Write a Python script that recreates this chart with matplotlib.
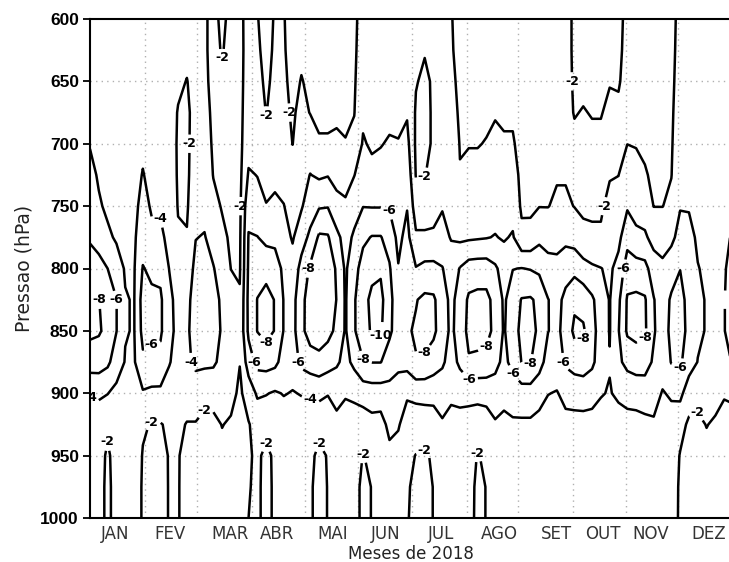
import numpy as np
import matplotlib
matplotlib.use("Agg")
import matplotlib.pyplot as plt

# ---------------- data ----------------
days = [0, 5, 10, 15, 20, 25, 30, 35, 40, 45, 50, 55, 60, 65, 70, 75, 80, 85, 90, 95,
        100, 105, 110, 115, 120, 125, 130, 135, 140, 145, 150, 155, 160, 165, 170, 175,
        180, 185, 190, 195, 200, 205, 210, 215, 220, 225, 230, 235, 240, 245, 250, 255,
        260, 265, 270, 275, 280, 285, 290, 295, 300, 305, 310, 315, 320, 325, 330, 335,
        340, 345, 350, 355, 360, 365]

pressure = [600, 625, 650, 675, 700, 725, 750, 775, 800, 825, 850, 875, 900, 925, 950, 975, 1000]

# one profile (600 -> 1000 hPa) per day in `days`
field_by_day = [
    [-3.0, -3.2, -3.4, -3.6, -3.9, -4.5, -5.1, -5.8, -6.8, -8.1, -8.4, -7.0, -4.1, -3.4, -3.1, -3.0, -3.0],
    [-2.9, -3.0, -3.2, -3.4, -3.6, -3.8, -4.2, -5.3, -6.6, -8.05, -8.2, -7.0, -4.2, -3.3, -3.0, -3.0, -3.0],
    [-2.8, -2.9, -3.0, -3.1, -3.3, -3.5, -3.7, -4.3, -6.0, -7.2, -7.5, -6.4, -4.05, -2.5, -1.6, -1.4, -1.4],
    [-2.7, -2.8, -2.9, -3.0, -3.1, -3.3, -3.6, -3.8, -4.8, -6.05, -6.05, -5.0, -3.5, -3.1, -3.0, -3.0, -3.0],
    [-2.7, -2.8, -2.9, -3.0, -3.1, -3.2, -3.35, -3.5, -3.85, -4.1, -4.1, -3.9, -3.3, -3.0, -3.0, -3.0, -3.0],
    [-2.6, -2.7, -2.8, -2.9, -3.1, -3.3, -3.5, -3.7, -3.85, -3.9, -3.9, -3.8, -3.4, -3.1, -3.0, -3.0, -3.0],
    [-2.6, -2.7, -2.9, -3.1, -3.6, -4.1, -4.6, -5.2, -6.1, -6.8, -6.6, -5.6, -3.8, -2.2, -1.9, -1.8, -1.8],
    [-2.5, -2.6, -2.7, -2.9, -3.1, -3.4, -3.8, -4.4, -5.6, -6.4, -6.4, -5.5, -3.6, -1.9, -1.5, -1.4, -1.4],
    [-2.5, -2.6, -2.7, -2.9, -3.1, -3.4, -3.8, -4.3, -5.5, -6.3, -6.3, -5.4, -3.6, -1.9, -1.5, -1.4, -1.4],
    [-2.5, -2.6, -2.7, -2.8, -2.9, -3.1, -3.3, -3.6, -3.95, -4.5, -4.5, -4.1, -3.3, -2.3, -2.1, -2.1, -2.1],
    [-2.6, -2.6, -2.3, -1.9, -1.8, -1.8, -1.9, -2.2, -2.8, -3.3, -3.5, -3.4, -3.0, -2.4, -2.1, -2.1, -2.1],
    [-2.6, -2.4, -1.95, -1.7, -1.7, -1.7, -1.8, -2.1, -2.9, -3.5, -3.7, -3.6, -3.0, -1.9, -1.5, -1.4, -1.4],
    [-2.6, -2.6, -2.6, -2.6, -2.7, -2.9, -3.3, -3.95, -4.5, -4.8, -4.8, -4.4, -3.0, -1.9, -1.5, -1.4, -1.4],
    [-2.2, -2.2, -2.3, -2.5, -2.7, -3.0, -3.5, -4.1, -4.6, -4.8, -4.8, -4.4, -2.5, -1.6, -1.5, -1.4, -1.4],
    [-1.6, -1.6, -1.6, -1.7, -1.8, -1.95, -2.4, -3.3, -4.1, -4.4, -4.4, -4.3, -2.6, -1.6, -1.4, -1.4, -1.4],
    [-2.3, -2.1, -1.7, -1.6, -1.6, -1.7, -1.9, -2.3, -3.2, -3.8, -3.9, -3.5, -2.6, -2.05, -1.6, -1.4, -1.4],
    [-1.6, -1.5, -1.5, -1.5, -1.5, -1.6, -1.7, -1.8, -1.98, -2.6, -2.9, -2.9, -2.5, -1.8, -1.5, -1.4, -1.4],
    [-1.6, -1.5, -1.5, -1.5, -1.5, -1.5, -1.6, -1.7, -1.8, -2.2, -2.4, -2.05, -1.7, -1.5, -1.4, -1.4, -1.4],
    [-2.6, -2.7, -2.8, -3.0, -3.3, -4.2, -5.5, -6.1, -6.3, -6.5, -6.4, -5.0, -2.8, -1.9, -1.8, -1.9, -2.0],
    [-2.05, -2.2, -2.5, -2.9, -3.4, -3.95, -4.7, -6.05, -7.2, -8.05, -8.05, -6.6, -4.3, -2.6, -2.3, -2.3, -2.3],
    [-1.6, -1.6, -1.7, -1.95, -2.5, -3.6, -4.05, -5.5, -7.3, -8.7, -8.7, -6.8, -4.1, -2.6, -1.6, -1.5, -1.5],
    [-2.1, -2.2, -2.4, -2.6, -3.0, -3.5, -4.4, -5.5, -6.9, -7.9, -7.9, -6.5, -3.8, -2.6, -2.3, -2.3, -2.3],
    [-2.05, -2.1, -2.2, -2.4, -2.8, -3.4, -4.05, -4.8, -5.6, -5.9, -5.9, -5.2, -4.1, -3.0, -2.6, -2.4, -2.4],
    [-1.6, -1.6, -1.7, -1.8, -1.98, -2.6, -3.3, -3.8, -4.8, -5.3, -5.3, -4.9, -3.9, -3.1, -2.8, -2.6, -2.6],
    [-1.7, -1.8, -2.05, -2.4, -2.8, -3.3, -3.8, -5.2, -6.6, -7.4, -7.5, -6.5, -4.1, -3.0, -2.7, -2.6, -2.6],
    [-1.6, -1.7, -1.8, -1.95, -2.9, -4.05, -5.1, -6.4, -8.3, -9.0, -8.9, -7.0, -4.3, -2.9, -2.4, -2.2, -2.2],
    [-1.6, -1.6, -1.7, -1.8, -2.1, -3.7, -5.8, -8.3, -9.3, -9.5, -9.2, -7.3, -4.5, -2.6, -1.6, -1.5, -1.5],
    [-1.6, -1.6, -1.7, -1.8, -2.1, -3.9, -5.9, -8.2, -9.0, -9.2, -8.6, -6.9, -4.1, -2.8, -2.1, -2.05, -2.05],
    [-1.6, -1.6, -1.7, -1.8, -2.2, -3.3, -4.7, -6.5, -7.8, -7.95, -7.6, -6.3, -4.5, -3.6, -2.7, -2.6, -2.6],
    [-1.6, -1.6, -1.7, -1.8, -2.05, -3.0, -4.4, -5.3, -5.7, -5.8, -5.8, -5.4, -4.2, -3.1, -2.7, -2.6, -2.6],
    [-1.7, -1.7, -1.8, -1.95, -2.4, -3.95, -5.2, -6.3, -7.3, -7.8, -7.8, -6.5, -4.4, -3.1, -2.7, -2.6, -2.6],
    [-2.6, -2.9, -3.2, -3.6, -4.2, -5.0, -5.95, -7.6, -8.8, -9.4, -9.3, -7.9, -4.8, -3.0, -1.95, -1.6, -1.6],
    [-2.5, -2.7, -3.0, -3.3, -3.7, -4.6, -5.9, -8.1, -9.5, -10.4, -10.2, -8.05, -5.0, -3.4, -2.3, -2.05, -2.05],
    [-2.5, -2.7, -3.0, -3.3, -3.9, -4.7, -5.9, -8.1, -9.7, -10.6, -10.3, -8.05, -5.0, -3.3, -2.8, -2.6, -2.6],
    [-2.4, -2.7, -3.0, -3.5, -4.2, -5.0, -5.8, -7.2, -8.2, -8.5, -8.3, -7.2, -5.2, -4.5, -3.5, -2.8, -2.6],
    [-2.4, -2.7, -3.0, -3.5, -4.1, -4.6, -5.0, -5.5, -6.1, -7.0, -7.2, -6.4, -5.2, -4.2, -3.2, -2.7, -2.6],
    [-2.4, -2.6, -3.0, -3.8, -4.6, -5.4, -5.9, -6.6, -7.3, -7.8, -7.8, -6.7, -4.3, -3.0, -2.4, -2.2, -2.1],
    [-2.3, -2.2, -2.1, -1.8, -1.7, -1.9, -3.0, -4.3, -6.1, -7.9, -8.2, -7.9, -4.5, -3.0, -1.95, -1.6, -1.6],
    [-2.3, -2.1, -1.7, -1.6, -1.6, -1.95, -3.0, -4.3, -6.5, -8.4, -8.7, -7.7, -4.6, -3.0, -1.8, -1.5, -1.5],
    [-2.4, -2.3, -2.2, -2.2, -2.2, -2.4, -3.1, -4.4, -6.5, -8.3, -8.4, -7.0, -4.6, -3.1, -2.2, -2.05, -2.05],
    [-2.5, -2.6, -2.8, -3.0, -3.3, -3.6, -3.9, -4.5, -6.1, -6.9, -7.0, -6.3, -4.8, -3.8, -3.0, -2.7, -2.6],
    [-2.05, -2.1, -2.2, -2.4, -2.7, -3.1, -3.5, -3.9, -4.8, -5.5, -5.6, -5.2, -4.3, -3.5, -3.0, -2.7, -2.6],
    [-1.7, -1.7, -1.8, -1.85, -1.95, -2.05, -2.6, -3.6, -6.1, -6.8, -6.9, -6.4, -4.6, -3.3, -2.9, -2.7, -2.6],
    [-1.6, -1.6, -1.7, -1.8, -1.95, -2.3, -3.0, -3.7, -6.9, -8.3, -8.5, -7.8, -4.5, -3.3, -2.9, -2.7, -2.6],
    [-1.6, -1.6, -1.7, -1.8, -1.95, -2.3, -2.9, -3.8, -7.0, -8.5, -8.7, -7.6, -4.5, -3.1, -1.9, -1.6, -1.6],
    [-1.6, -1.6, -1.7, -1.8, -2.05, -2.4, -3.0, -3.9, -7.0, -8.5, -8.6, -7.4, -4.6, -3.2, -2.3, -2.05, -2.05],
    [-1.6, -1.6, -1.7, -1.9, -2.3, -2.7, -3.2, -4.1, -6.3, -7.4, -7.5, -6.6, -5.0, -3.8, -3.0, -2.7, -2.6],
    [-1.6, -1.6, -1.7, -1.85, -2.1, -2.5, -3.0, -3.8, -5.2, -5.7, -5.8, -5.5, -4.5, -3.6, -3.0, -2.7, -2.6],
    [-1.6, -1.6, -1.7, -1.85, -2.1, -2.5, -3.2, -4.2, -5.95, -7.0, -7.3, -6.6, -5.0, -3.7, -3.0, -2.7, -2.6],
    [-1.5, -1.5, -1.5, -1.6, -1.65, -1.7, -1.75, -2.4, -6.05, -8.1, -8.4, -8.05, -5.1, -3.7, -3.0, -2.7, -2.6],
    [-1.5, -1.5, -1.5, -1.6, -1.6, -1.6, -1.7, -2.5, -5.9, -8.2, -8.5, -8.1, -5.1, -3.7, -3.0, -2.7, -2.6],
    [-1.5, -1.5, -1.5, -1.6, -1.7, -1.8, -1.95, -3.5, -5.6, -7.6, -7.7, -6.8, -4.6, -3.5, -3.0, -2.7, -2.6],
    [-1.5, -1.5, -1.5, -1.6, -1.7, -1.8, -1.95, -3.2, -4.8, -6.05, -6.05, -5.2, -4.05, -3.2, -2.9, -2.7, -2.6],
    [-1.5, -1.5, -1.5, -1.6, -1.7, -1.85, -2.3, -3.4, -4.5, -5.4, -5.5, -5.0, -3.9, -3.2, -2.9, -2.7, -2.6],
    [-1.6, -1.6, -1.6, -1.7, -1.75, -1.85, -2.3, -3.5, -5.2, -6.5, -6.8, -6.3, -4.5, -3.5, -3.0, -2.7, -2.6],
    [-2.2, -2.2, -2.15, -2.05, -1.8, -1.8, -1.95, -3.2, -5.4, -7.6, -8.4, -6.9, -4.6, -3.5, -3.0, -2.7, -2.6],
    [-2.3, -2.3, -2.2, -1.95, -1.7, -1.7, -1.8, -2.3, -4.8, -7.2, -8.3, -7.0, -4.8, -3.4, -3.0, -2.7, -2.6],
    [-2.3, -2.3, -2.2, -2.05, -1.8, -1.7, -1.8, -2.2, -4.3, -6.3, -6.6, -6.4, -4.6, -3.4, -3.0, -2.7, -2.6],
    [-2.3, -2.3, -2.2, -2.05, -1.8, -1.7, -1.8, -2.2, -4.05, -5.0, -5.2, -5.0, -4.1, -3.4, -3.0, -2.7, -2.6],
    [-2.3, -2.2, -2.05, -1.8, -1.7, -1.9, -2.4, -3.0, -3.7, -3.9, -3.9, -4.1, -3.9, -3.3, -3.0, -2.7, -2.6],
    [-2.3, -2.2, -2.05, -1.9, -1.9, -1.98, -2.6, -3.5, -4.6, -5.6, -5.9, -5.6, -4.3, -3.3, -3.0, -2.7, -2.6],
    [-1.7, -1.7, -1.8, -1.9, -1.98, -3.0, -3.8, -5.3, -7.0, -8.2, -8.3, -6.6, -4.5, -3.5, -3.0, -2.7, -2.6],
    [-1.7, -1.7, -1.8, -1.9, -1.95, -2.3, -3.2, -4.5, -6.8, -8.4, -8.6, -7.0, -4.6, -3.5, -3.0, -2.7, -2.6],
    [-1.7, -1.7, -1.8, -1.85, -1.9, -2.05, -3.0, -4.3, -6.6, -8.2, -8.3, -6.9, -4.8, -3.6, -3.0, -2.7, -2.6],
    [-1.7, -1.7, -1.75, -1.8, -1.85, -1.9, -1.97, -3.3, -5.0, -6.1, -6.2, -5.7, -4.6, -3.8, -3.0, -2.7, -2.6],
    [-1.7, -1.7, -1.75, -1.8, -1.85, -1.9, -1.97, -3.2, -4.4, -4.9, -5.0, -4.7, -3.9, -3.4, -3.0, -2.7, -2.6],
    [-1.7, -1.7, -1.75, -1.8, -1.85, -1.95, -2.4, -3.6, -5.0, -6.3, -6.5, -6.1, -4.2, -3.4, -3.0, -2.7, -2.6],
    [-2.3, -2.4, -2.5, -2.7, -3.0, -3.4, -3.9, -4.6, -5.95, -6.8, -7.0, -6.3, -4.5, -2.6, -1.9, -1.8, -1.8],
    [-2.4, -2.5, -2.7, -2.9, -3.2, -3.5, -3.9, -4.4, -4.9, -5.2, -5.3, -4.9, -2.9, -1.7, -1.5, -1.5, -1.5],
    [-2.4, -2.6, -2.8, -3.0, -3.2, -3.4, -3.6, -3.8, -4.05, -4.3, -4.3, -3.95, -2.5, -1.7, -1.5, -1.5, -1.5],
    [-2.4, -2.5, -2.6, -2.8, -3.0, -3.2, -3.4, -3.6, -3.8, -3.9, -3.9, -3.7, -2.6, -2.05, -1.6, -1.5, -1.5],
    [-2.4, -2.5, -2.6, -2.8, -3.0, -3.2, -3.4, -3.6, -3.7, -3.8, -3.8, -3.5, -2.5, -1.8, -1.5, -1.5, -1.5],
    [-2.4, -2.5, -2.6, -2.8, -3.0, -3.2, -3.5, -3.8, -3.9, -3.95, -3.95, -3.6, -2.1, -1.6, -1.5, -1.5, -1.5],
    [-2.4, -2.5, -2.6, -2.8, -3.0, -3.2, -3.6, -4.1, -4.4, -4.6, -4.6, -4.1, -2.2, -1.6, -1.5, -1.5, -1.5],
]

contour_levels = [-10, -8, -6, -4, -2]

month_labels = ["JAN", "FEV", "MAR", "ABR", "MAI", "JUN", "JUL", "AGO", "SET", "OUT", "NOV", "DEZ"]
month_label_days = [14, 45.5, 79.5, 106, 138, 168, 199, 232.5, 265, 291, 318, 351]
month_grid_days = [31, 61, 92, 122, 152, 183, 214, 243, 274, 304, 334]
pressure_ticks = [600, 650, 700, 750, 800, 850, 900, 950, 1000]

# ---------------- figure ----------------
W, H = 729, 562
fig = plt.figure(figsize=(W / 100, H / 100), dpi=100)
ax = fig.add_axes([90 / W, 44 / H, 643 / W, 499 / H])

Z = np.array(field_by_day).T
X, Y = np.meshgrid(days, pressure)

ax.set_xlim(0, 365)
ax.set_ylim(1000, 600)

# grid
for gd in month_grid_days:
    ax.axvline(gd, color="#b0b0b0", lw=1.0, ls=(0, (1, 3)), zorder=0)
for gp in pressure_ticks[1:-1]:
    ax.axhline(gp, color="#b0b0b0", lw=1.0, ls=(0, (1, 3)), zorder=0)

cs = ax.contour(X, Y, Z, levels=contour_levels, colors="black", linewidths=1.8,
                linestyles="solid", zorder=2)
labels = ax.clabel(cs, fmt="%d", fontsize=9, inline=True, inline_spacing=3)
for t in list(labels):
    tx, ty = t.get_position()
    if tx > 355:
        t.remove()
        continue
    t.set_fontweight("bold")
    t.set_fontfamily("DejaVu Sans")
    t.set_rotation(0)

# axes styling
for side in ["left", "top", "bottom"]:
    ax.spines[side].set_linewidth(1.5)
    ax.spines[side].set_color("black")
ax.spines["right"].set_visible(False)

ax.set_yticks(pressure_ticks)
ax.set_yticklabels([str(p) for p in pressure_ticks], fontsize=12.5, fontweight="bold",
                   family="Liberation Sans")
ax.tick_params(axis="y", direction="out", length=5, width=1.3, pad=3)

ax.set_xticks(month_label_days)
ax.set_xticklabels(month_labels, fontsize=12, family="DejaVu Sans", color="#333333")
ax.tick_params(axis="x", length=0, pad=5)

fig.text(411 / W, 1 - 554 / H, "Meses de 2018", fontsize=12, family="DejaVu Sans",
         color="#222222", ha="center", va="center")
fig.text(24 / W, 1 - 268 / H, "Pressao (hPa)", fontsize=13.5, family="DejaVu Sans",
         color="#222222", ha="center", va="center", rotation=90)

fig.savefig("out.png", dpi=100)
